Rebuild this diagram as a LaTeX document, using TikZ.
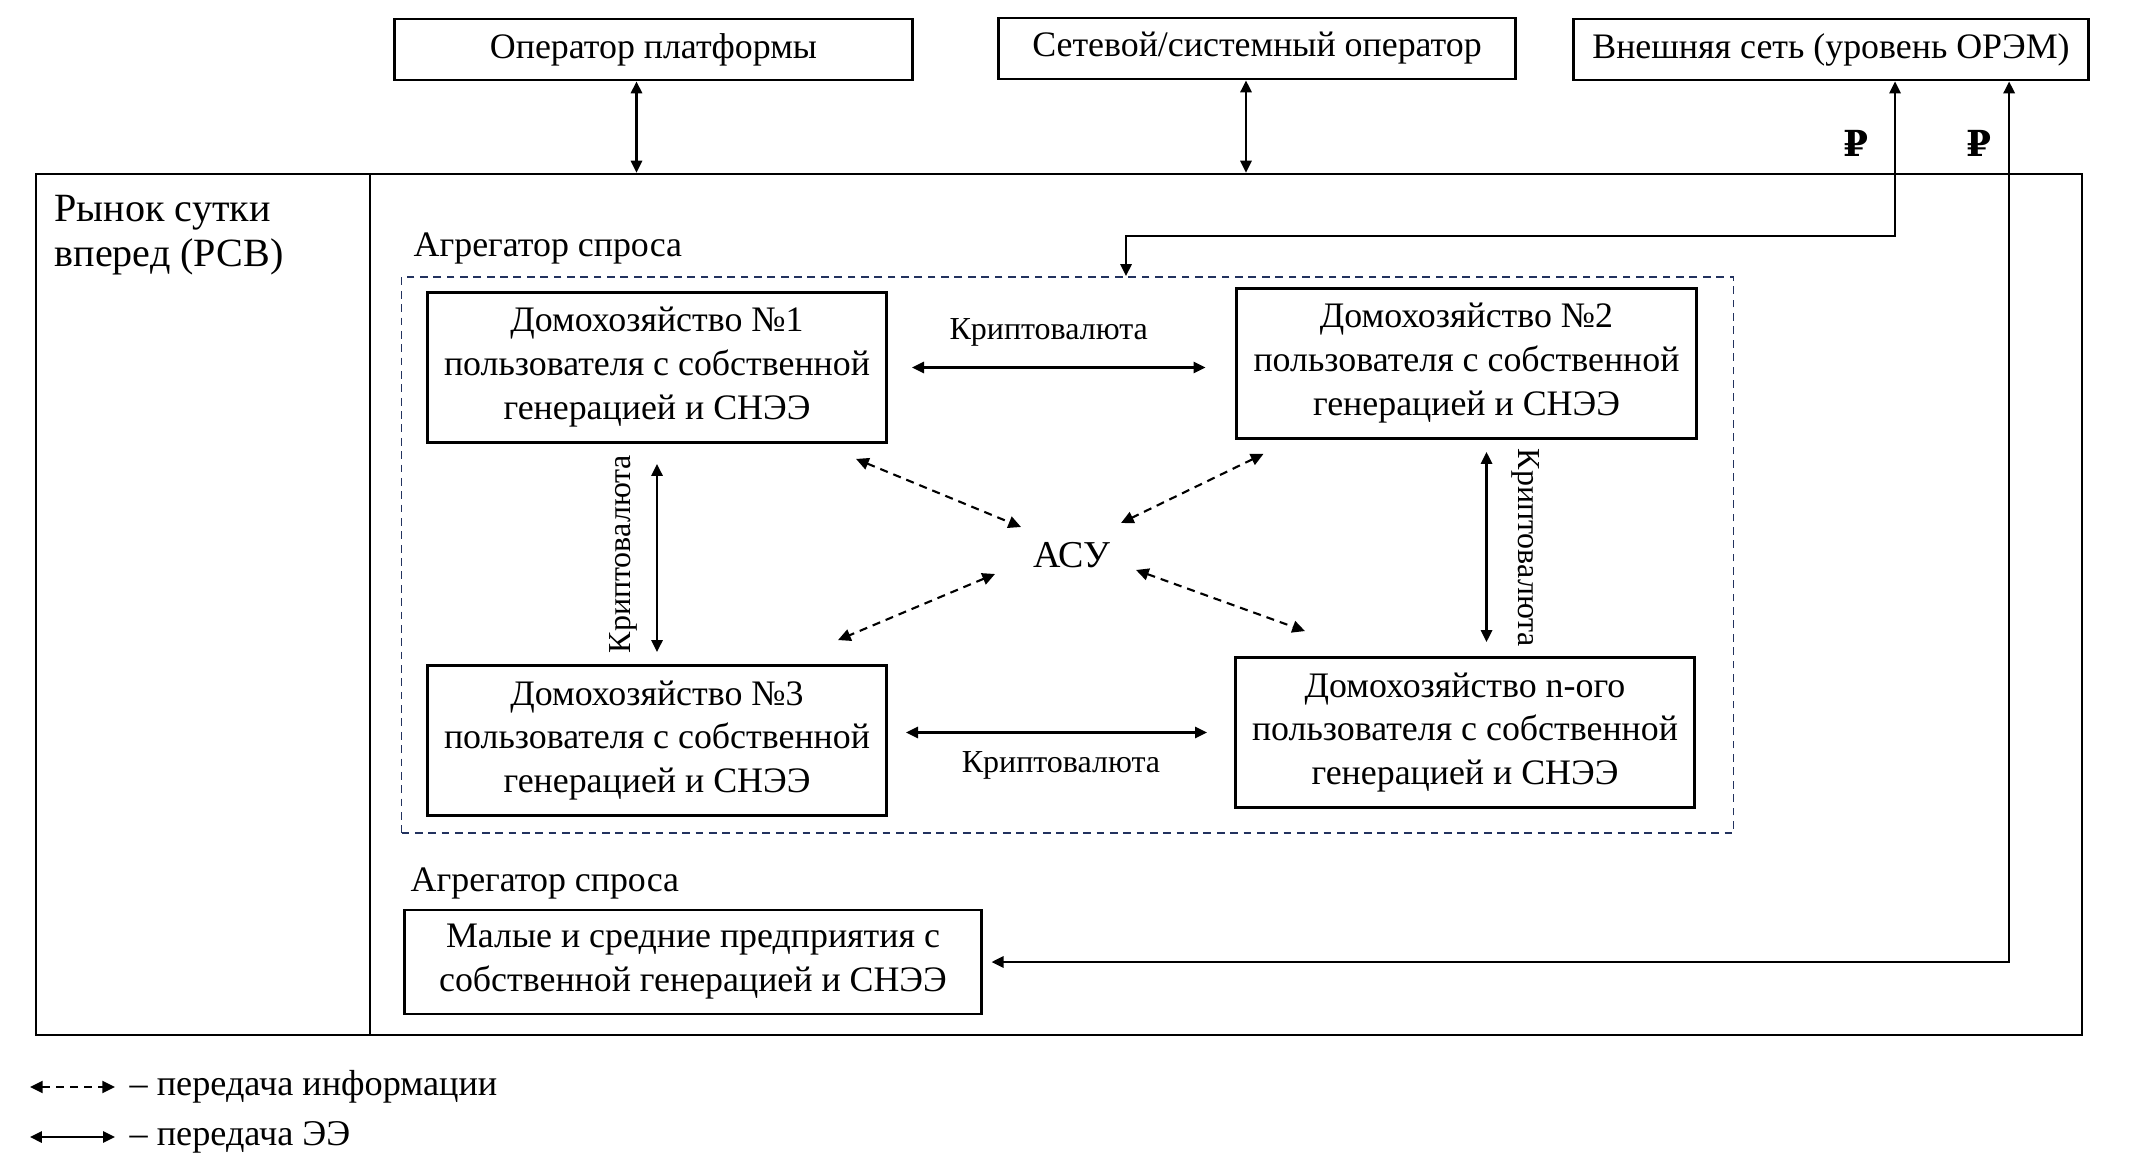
\documentclass[tikz,border=0pt]{standalone}
\usepackage{fontspec}
\setmainfont{Liberation Serif}
\newfontfamily\rubfont{DejaVu Serif}
\usetikzlibrary{positioning,arrows.meta}
\definecolor{aggblue}{HTML}{22325E}

\begin{document}
\begin{tikzpicture}[
    x=0.01cm, y=-0.01cm,
    % Define styles for boxes, labels and arrows
    topbox/.style={rectangle, draw, line width=0.8pt, minimum width=5.17cm, minimum height=0.61cm, inner sep=0pt, font=\fontsize{10.2}{12.5}\selectfont},
    hhbox/.style={rectangle, draw, line width=0.8pt, minimum width=4.59cm, minimum height=1.5cm, inner sep=0pt, align=center, font=\fontsize{10.2}{12.5}\selectfont},
    aggbox/.style={rectangle, draw=aggblue, line width=0.45pt, dash pattern=on 2.2pt off 1.6pt, minimum width=13.31cm, minimum height=5.56cm, inner sep=0pt},
    txt/.style={inner sep=0pt, font=\fontsize{10.2}{12.5}\selectfont},
    lbl/.style={inner sep=0pt, font=\fontsize{9.1}{10}\selectfont},
    both/.style={<->, >={Triangle[length=3.4pt,width=3.2pt]}, line width=0.65pt},
    info/.style={<->, >={Triangle[length=3.6pt,width=3.4pt]}, line width=0.6pt, dash pattern=on 2.3pt off 1.7pt}
]
    \useasboundingbox (0,0) rectangle (2134,1164);

    % Top row
    \node[topbox] (plat) at (653.5,49.5) {Оператор платформы};
    \node[topbox] (netop) at (1257,48.5) {Сетевой/системный оператор};
    \node[topbox, minimum width=5.14cm] (extnet) at (1831,49.5) {Внешняя сеть (уровень ОРЭМ)};

    % Day-ahead market frame
    \node[draw, line width=0.6pt, minimum width=20.44cm, minimum height=8.61cm, inner sep=0pt] (market) at (1059,604.5) {};
    \draw[line width=0.6pt] (370,174) -- (370,1035);
    \node[txt, anchor=north west, align=left, font=\fontsize{11.4}{12.8}\selectfont] (rsv) at (54,195) {Рынок сутки\\вперед (РСВ)};

    % Aggregator of households
    \node[txt, anchor=west] (agg1) at (413,248) {Агрегатор спроса};
    \node[aggbox] (aggbox) at (1067.5,555) {};
    \node[hhbox] (hh1) at (657,367.5) {Домохозяйство №1\\пользователя с собственной\\генерацией и СНЭЭ};
    \node[hhbox] (hh2) at (1466.5,363.5) {Домохозяйство №2\\пользователя с собственной\\генерацией и СНЭЭ};
    \node[hhbox] (hh3) at (657,740.5) {Домохозяйство №3\\пользователя с собственной\\генерацией и СНЭЭ};
    \node[hhbox] (hh4) at (1465,732.5) {Домохозяйство n-ого\\пользователя с собственной\\генерацией и СНЭЭ};
    \node[inner sep=0pt, font=\fontsize{10.8}{12}\selectfont] (acu) at (1072,555) {АСУ};

    % Small and medium enterprises
    \node[txt, anchor=west] (agg2) at (410,883) {Агрегатор спроса};
    \node[hhbox, minimum width=5.76cm, minimum height=1.04cm] (sme) at (693,962) {Малые и средние предприятия с\\собственной генерацией и СНЭЭ};

    % Links to the top row
    \draw[both] ([xshift=-0.17cm]plat.south) -- ([xshift=-0.17cm]plat.south |- market.north);
    \draw[both] ([xshift=-0.11cm]netop.south) -- ([xshift=-0.11cm]netop.south |- market.north);
    \coordinate (aggin) at (1126,236);
    \draw[both] ([xshift=0.64cm]extnet.south) |- (aggin) -- (aggin |- aggbox.north);
    \draw[both] ([xshift=1.78cm]extnet.south) |- ([xshift=0.09cm]sme.east);
    \node[txt, font=\rubfont\bfseries\fontsize{10.2}{12}\selectfont] (rub1) at (1856,143) {₽};
    \node[txt, font=\rubfont\bfseries\fontsize{10.2}{12}\selectfont] (rub2) at (1979,143) {₽};

    % Cryptocurrency exchange between households
    \draw[both, shorten <=0.24cm, shorten >=0.3cm] (hh1.east) -- (hh1.east -| hh2.west)
        node[midway, lbl, above=0.2cm, xshift=-0.13cm] {Криптовалюта};
    \draw[both, shorten <=0.18cm, shorten >=0.27cm] (hh4.west -| hh3.east) -- (hh4.west)
        node[midway, lbl, below=0.18cm] {Криптовалюта};
    \draw[both, shorten <=0.2cm, shorten >=0.12cm] (hh1.south) -- (hh3.north)
        node[midway, lbl, xshift=-0.34cm, rotate=90] {Криптовалюта};
    \draw[both, shorten <=0.12cm, shorten >=0.14cm] ([xshift=0.2cm]hh2.south) -- ([xshift=0.2cm]hh2.south |- hh4.north)
        node[midway, lbl, xshift=0.39cm, rotate=-90] {Криптовалюта};

    % Information flows to the control system
    \draw[info] ([shift={(-32,15)}]hh1.south east) -- ([shift={(-51,-28)}]acu.center);
    \draw[info] ([shift={(28,14)}]hh2.south west) -- ([shift={(49,-32)}]acu.center);
    \draw[info] ([shift={(-77,19)}]acu.center) -- ([shift={(-50,-24)}]hh3.north east);
    \draw[info] ([shift={(64,15)}]acu.center) -- ([shift={(71,-25)}]hh4.north west);

    % Legend
    \node[txt, anchor=west, font=\fontsize{10.3}{12}\selectfont] (leg1) at (129,1087) {– передача информации};
    \node[txt, anchor=west, font=\fontsize{10.3}{12}\selectfont] (leg2) at (129,1137) {– передача ЭЭ};
    \draw[info] ([xshift=-0.99cm]leg1.west) -- ([xshift=-0.14cm]leg1.west);
    \draw[both] ([xshift=-0.99cm]leg2.west) -- ([xshift=-0.14cm]leg2.west);
\end{tikzpicture}
\end{document}
